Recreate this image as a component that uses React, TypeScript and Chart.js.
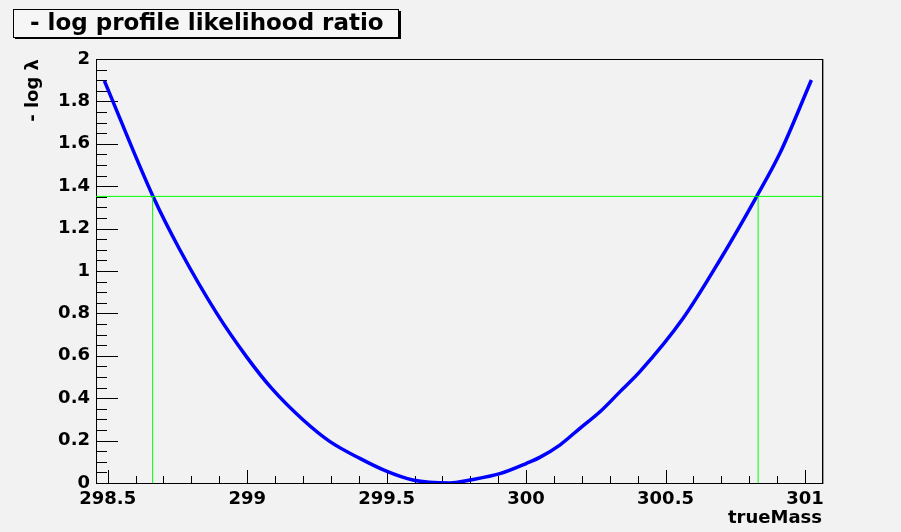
import React, { useEffect, useRef } from 'react';
import { Chart, registerables } from 'chart.js';

Chart.register(...registerables);

// ---- data ----
const massValues = [
  298.488, 298.663, 298.759, 298.891, 298.998, 299.088, 299.201, 299.297, 299.404,
  299.497, 299.594, 299.727, 299.798, 299.906, 300.002, 300.049, 300.121, 300.193,
  300.265, 300.337, 300.408, 300.563, 300.695, 300.826, 300.910, 301.023,
];
const nllValues = [
  1.897, 1.350, 1.099, 0.800, 0.595, 0.446, 0.297, 0.195, 0.116,
  0.057, 0.014, 0.000, 0.014, 0.044, 0.093, 0.121, 0.179, 0.258,
  0.336, 0.431, 0.525, 0.777, 1.052, 1.350, 1.555, 1.901,
];
const levelValue = 1.352;
const intervalBounds = [298.661, 300.832];

const xAxisMin = 298.458;
const xAxisMax = 301.061;
const yAxisMin = 0;
const yAxisMax = 2;
const xTickValues = [298.5, 299, 299.5, 300, 300.5, 301];
const yTickValues = [0, 0.2, 0.4, 0.6, 0.8, 1, 1.2, 1.4, 1.6, 1.8, 2];

const titleText = '- log profile likelihood ratio';
const xTitle = 'trueMass';
const yTitle = '- log λ';

const FONT = '"DejaVu Sans", "Liberation Sans", sans-serif';
const BG = '#f2f2f2';

const bgPlugin = {
  id: 'bgFill',
  beforeDraw(chart: any) {
    const { ctx, width, height } = chart;
    ctx.save();
    ctx.fillStyle = BG;
    ctx.fillRect(0, 0, width, height);
    ctx.restore();
  },
};

const frameTicksPlugin = {
  id: 'frameTicks',
  beforeDatasetsDraw(chart: any) {
    const { ctx, chartArea: a, scales } = chart;
    const x = scales.x;
    const y = scales.y;
    ctx.save();
    ctx.strokeStyle = '#000';
    ctx.lineWidth = 1;
    ctx.beginPath();
    for (let i = Math.ceil(xAxisMin * 10); i <= Math.floor(xAxisMax * 10); i++) {
      const v = i / 10;
      const px = Math.round(x.getPixelForValue(v)) + 0.5;
      const major = i % 5 === 0;
      const len = major ? 13 : 7;
      ctx.moveTo(px, a.bottom);
      ctx.lineTo(px, a.bottom - len);
    }
    for (let i = Math.ceil(yAxisMin * 20); i <= Math.floor(yAxisMax * 20); i++) {
      const v = i / 20;
      const py = Math.round(y.getPixelForValue(v)) + 0.5;
      const major = i % 4 === 0;
      const len = major ? 22 : 11;
      ctx.moveTo(a.left, py);
      ctx.lineTo(a.left + len, py);
    }
    ctx.stroke();
    ctx.strokeRect(Math.round(a.left) + 0.5, Math.round(a.top) + 0.5,
      Math.round(a.right - a.left), Math.round(a.bottom - a.top));
    ctx.strokeStyle = '#999';
    ctx.beginPath();
    ctx.moveTo(Math.round(a.right) + 1.5, Math.round(a.top));
    ctx.lineTo(Math.round(a.right) + 1.5, Math.round(a.bottom) + 1);
    ctx.stroke();
    ctx.restore();
  },
};

const titleBoxPlugin = {
  id: 'titleBox',
  afterDraw(chart: any) {
    const { ctx } = chart;
    ctx.save();
    ctx.fillStyle = '#000';
    ctx.fillRect(15, 11, 386, 28);
    ctx.fillStyle = '#f6f6f6';
    ctx.fillRect(13, 9, 385, 28);
    ctx.strokeStyle = '#000';
    ctx.lineWidth = 1;
    ctx.strokeRect(13.5, 9.5, 385, 28);
    ctx.fillStyle = '#000';
    ctx.font = `bold 23px ${FONT}`;
    ctx.textBaseline = 'alphabetic';
    ctx.textAlign = 'left';
    ctx.fillText(titleText, 30, 30);
    ctx.restore();
  },
};

export default function App() {
  const canvasRef = useRef<HTMLCanvasElement | null>(null);

  useEffect(() => {
    const canvas = canvasRef.current;
    if (!canvas) return;
    const curve = massValues.map((m, i) => ({ x: m, y: nllValues[i] }));
    const levelLine = [
      { x: xAxisMin, y: levelValue },
      { x: xAxisMax, y: levelValue },
    ];
    const lowLine = [
      { x: intervalBounds[0], y: yAxisMin },
      { x: intervalBounds[0], y: levelValue },
    ];
    const highLine = [
      { x: intervalBounds[1], y: yAxisMin },
      { x: intervalBounds[1], y: levelValue },
    ];
    const greenStyle = {
      borderColor: '#00ff00',
      borderWidth: 1,
      pointRadius: 0,
      tension: 0,
      fill: false,
    };
    const chart = new Chart(canvas, {
      type: 'line',
      data: {
        datasets: [
          { label: 'level', data: levelLine, ...greenStyle },
          { label: 'low', data: lowLine, ...greenStyle },
          { label: 'high', data: highLine, ...greenStyle },
          {
            label: '-log lambda',
            data: curve,
            borderColor: '#0000ff',
            borderWidth: 3.5,
            pointRadius: 0,
            cubicInterpolationMode: 'monotone',
            fill: false,
          },
        ],
      },
      options: {
        animation: false,
        responsive: false,
        devicePixelRatio: 1,
        layout: { padding: { left: 0, top: 59, right: 79, bottom: 0 } },
        plugins: {
          legend: { display: false },
          tooltip: { enabled: false },
          title: { display: false },
        },
        scales: {
          x: {
            type: 'linear',
            position: 'bottom',
            min: xAxisMin,
            max: xAxisMax,
            grid: { display: false, drawTicks: false },
            border: { display: false },
            afterBuildTicks: (scale: any) => {
              scale.ticks = xTickValues.map((v) => ({ value: v }));
            },
            afterFit: (scale: any) => {
              scale.height = 49;
            },
            ticks: {
              autoSkip: false,
              maxRotation: 0,
              minRotation: 0,
              padding: 6,
              color: '#000',
              font: { family: FONT, size: 18, weight: 'bold' },
              callback: (v: any) => String(v),
            },
            title: {
              display: true,
              text: xTitle,
              align: 'end',
              color: '#000',
              font: { family: FONT, size: 18, weight: 'bold' },
              padding: { top: 0, bottom: 3 },
            },
          },
          y: {
            type: 'linear',
            position: 'left',
            min: yAxisMin,
            max: yAxisMax,
            grid: { display: false, drawTicks: false },
            border: { display: false },
            afterBuildTicks: (scale: any) => {
              scale.ticks = yTickValues.map((v) => ({ value: v }));
            },
            afterFit: (scale: any) => {
              scale.width = 96;
            },
            ticks: {
              autoSkip: false,
              padding: 6,
              color: '#000',
              font: { family: FONT, size: 18, weight: 'bold' },
              callback: (v: any) => String(v),
            },
            title: {
              display: true,
              text: yTitle,
              align: 'end',
              color: '#000',
              font: { family: FONT, size: 18, weight: 'bold' },
              padding: { top: 23, bottom: 0 },
            },
          },
        },
      } as any,
      plugins: [bgPlugin, frameTicksPlugin, titleBoxPlugin],
    });
    return () => chart.destroy();
  }, []);

  return (
    <div style={{ position: 'fixed', left: 0, top: 0, width: 901, height: 532, background: BG }}>
      <canvas ref={canvasRef} width={901} height={532} style={{ display: 'block', width: 901, height: 532 }} />
    </div>
  );
}
